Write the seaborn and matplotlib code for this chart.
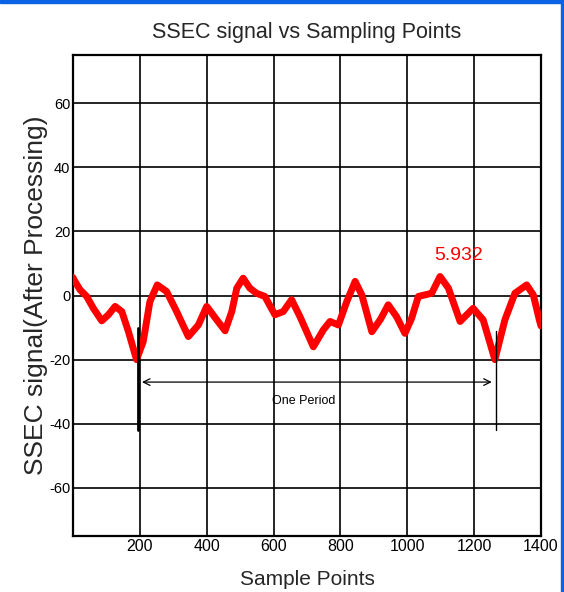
import numpy as np
import pandas as pd
import matplotlib
matplotlib.use("Agg")
import matplotlib.pyplot as plt
from matplotlib.patches import Rectangle
import seaborn as sns

# Processed SSEC signal, sampled along the record
sample_points = [0, 3, 21, 41, 61, 86, 106, 126, 146, 166, 190, 210, 230, 252, 280,
                 310, 345, 375, 400, 430, 455, 475, 490, 509, 529, 549, 574, 604, 629,
                 654, 679, 719, 749, 769, 794, 819, 844, 864, 894, 920, 943, 968, 993,
                 1013, 1033, 1073, 1098, 1123, 1158, 1197, 1227, 1262, 1292, 1322,
                 1357, 1377, 1395, 1400]
signal_values = [5.6, 4.9, 1.8, -0.3, -4.0, -7.9, -6.0, -3.4, -5.0, -11.3, -20.0,
                 -14.4, -1.9, 3.3, 1.25, -5.0, -12.8, -9.2, -3.4, -7.6, -11.0, -5.0,
                 2.3, 5.4, 2.3, 0.7, -0.3, -6.0, -5.0, -1.3, -6.6, -16.0, -10.7, -8.1,
                 -9.2, -1.9, 4.4, 0.2, -11.3, -7.4, -2.9, -6.6, -11.8, -7.1, -0.3, 0.7,
                 5.932, 2.3, -8.1, -4.0, -7.6, -20.0, -7.6, 0.7, 3.3, 0.2, -7.6, -9.5]

x_ticks = [200, 400, 600, 800, 1000, 1200, 1400]
y_ticks = [60, 40, 20, 0, -20, -40, -60]

# Period markers (the two troughs) and the labelled peak
period_start = 194
period_end = 1265
peak_sample = 1098
peak_value = 5.932

df = pd.DataFrame({"Sample Points": sample_points, "signal": signal_values})

sns.set_style("white")
narrow = ["Liberation Sans Narrow", "Liberation Sans", "DejaVu Sans"]
plt.rcParams["font.family"] = ["Liberation Sans", "DejaVu Sans"]

fig = plt.figure(figsize=(5.64, 5.92), dpi=100)
ax = fig.add_axes([73 / 564, 56 / 592, 468 / 564, 481 / 592])

sns.lineplot(data=df, x="Sample Points", y="signal", ax=ax, color="#ff0000",
             linewidth=5.0, solid_capstyle="round", solid_joinstyle="round", zorder=3)

ax.set_xlim(0, 1400)
ax.set_ylim(-75, 75)
ax.set_xticks(x_ticks)
ax.set_yticks(y_ticks)
ax.grid(True, color="black", linewidth=1.2)
for s in ax.spines.values():
    s.set_color("black")
    s.set_linewidth(1.6)
ax.tick_params(direction="in", length=3, width=1, colors="black", pad=2)
ax.set_xticklabels([str(t) for t in x_ticks], family=narrow, fontsize=11.5)
ax.set_yticklabels([str(t) for t in y_ticks], family=narrow, fontsize=10.5)

ax.set_title("SSEC signal vs Sampling Points", family=narrow, fontsize=15.5, pad=12)
ax.set_xlabel("Sample Points", family=narrow, fontsize=15, labelpad=12)
ax.set_ylabel("SSEC signal(After Processing)", fontsize=19, labelpad=1)

# One-period annotation
ax.plot([period_start, period_start], [-10, -42], color="black", linewidth=2.0, zorder=4)
ax.plot([period_end, period_end], [-11, -42], color="black", linewidth=1.0, zorder=4)
ax.annotate("", xy=(period_start + 4, -27), xytext=(period_end - 4, -27),
            arrowprops=dict(arrowstyle="<->", color="black", linewidth=0.9,
                            mutation_scale=12), zorder=4)
ax.text((period_start + period_end) / 2 - 40, -33, "One Period", family=narrow,
        fontsize=9, ha="center", va="center", color="black")

ax.text(peak_sample + 55, peak_value + 3.8, f"{peak_value:.3f}", color="#ff0000",
        fontsize=14, family=narrow, ha="center", va="bottom")

# Blue window frame on the top and right edges
fig.add_artist(Rectangle((0, 1 - 3 / 592), 1, 3 / 592, transform=fig.transFigure,
                         color="#0b62e4", zorder=10))
fig.add_artist(Rectangle((1 - 3 / 564, 0), 2 / 564, 1, transform=fig.transFigure,
                         color="#0b62e4", zorder=10))

fig.savefig("out.png", dpi=100)
